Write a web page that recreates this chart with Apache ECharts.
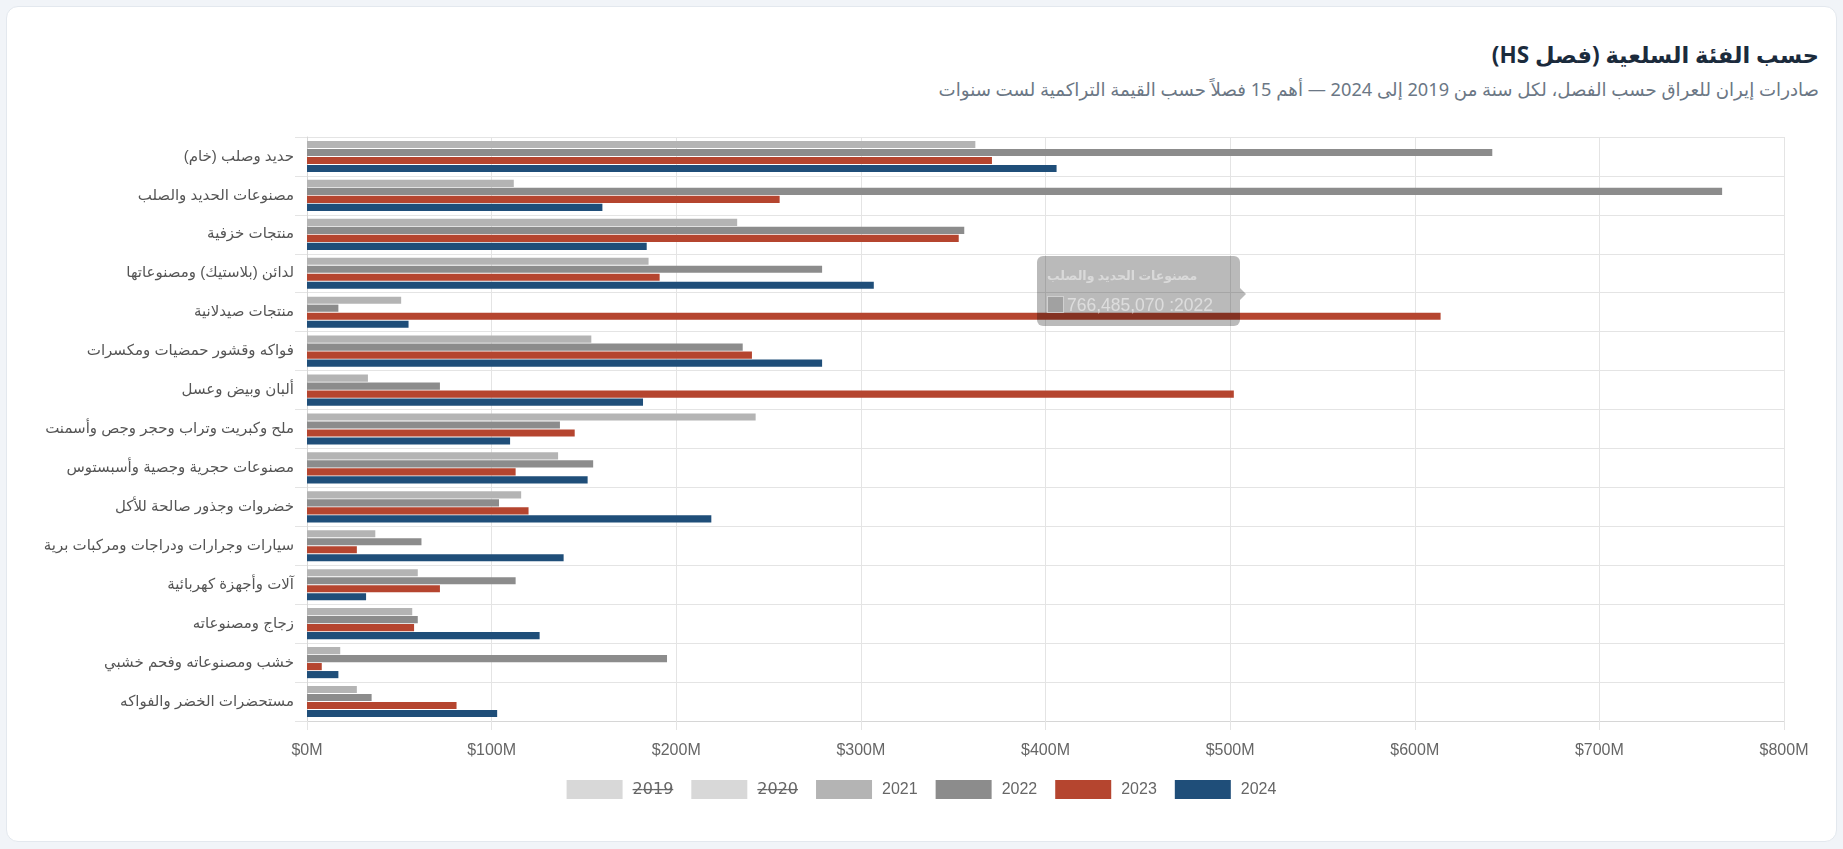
<!DOCTYPE html>
<html>
<head>
<meta charset="utf-8">
<script src="https://cdn.jsdelivr.net/npm/echarts@6/dist/echarts.min.js"></script>
<style>
  html, body { margin: 0; padding: 0; background: #f1f4f8; width: 1843px; height: 849px; overflow: hidden; }
  #card { position: absolute; left: 6px; top: 6px; width: 1829px; height: 834px; background: #fff; border: 1px solid #e3e8ee; border-radius: 12px; }
  #title { position: absolute; right: 24px; top: 40px; direction: rtl; font-family: "Noto Sans", "DejaVu Sans", sans-serif; font-size: 22.5px; font-weight: bold; color: #1b2b3c; white-space: nowrap; line-height: 30px; }
  #subtitle { position: absolute; right: 24px; top: 76px; direction: rtl; font-family: "Noto Sans", "DejaVu Sans", sans-serif; font-size: 18.2px; color: #6b7785; white-space: nowrap; line-height: 26px; }
  #chart { position: absolute; left: 0; top: 0; width: 1843px; height: 849px; direction: rtl; }
</style>
</head>
<body>
<div id="card"></div>
<div id="title">حسب الفئة السلعية (فصل HS)</div>
<div id="subtitle">صادرات إيران للعراق حسب الفصل، لكل سنة من 2019 إلى 2024 — أهم 15 فصلاً حسب القيمة التراكمية لست سنوات</div>
<div id="chart"></div>
<script>
const categories = [
  'حديد وصلب (خام)',
  'مصنوعات الحديد والصلب',
  'منتجات خزفية',
  'لدائن (بلاستيك) ومصنوعاتها',
  'منتجات صيدلانية',
  'فواكه وقشور حمضيات ومكسرات',
  'ألبان وبيض وعسل',
  'ملح وكبريت وتراب وحجر وجص وأسمنت',
  'مصنوعات حجرية وجصية وأسبستوس',
  'خضروات وجذور صالحة للأكل',
  'سيارات وجرارات ودراجات ومركبات برية',
  'آلات وأجهزة كهربائية',
  'زجاج ومصنوعاته',
  'خشب ومصنوعاته وفحم خشبي',
  'مستحضرات الخضر والفواكه'
];
const years = ['2019', '2020', '2021', '2022', '2023', '2024'];
const hiddenYears = ['2019', '2020'];
const v2019 = [];
const v2020 = [];
const v2021 = [362000000, 112000000, 233000000, 185000000, 51000000, 154000000, 33000000, 243000000, 136000000, 116000000, 37000000, 60000000, 57000000, 18000000, 27000000];
const v2022 = [642000000, 766485070, 356000000, 279000000, 17000000, 236000000, 72000000, 137000000, 155000000, 104000000, 62000000, 113000000, 60000000, 195000000, 35000000];
const v2023 = [371000000, 256000000, 353000000, 191000000, 614000000, 241000000, 502000000, 145000000, 113000000, 120000000, 27000000, 72000000, 58000000, 8000000, 81000000];
const v2024 = [406000000, 160000000, 184000000, 307000000, 55000000, 279000000, 182000000, 110000000, 152000000, 219000000, 139000000, 32000000, 126000000, 17000000, 103000000];
const xTicks = { min: 0, max: 800000000, interval: 100000000 };

const values = [v2019, v2020, v2021, v2022, v2023, v2024];
const colors = ['#e0e0e0', '#d0d0d0', '#b4b4b4', '#8c8c8c', '#b5452f', '#1f4e79'];

const strike = s => s.split('').map(c => c + '\u0336').join('');

const chart = echarts.init(document.getElementById('chart'), null, { renderer: 'canvas' });
const selected = {};
years.forEach(y => { selected[y] = hiddenYears.indexOf(y) < 0; });

chart.setOption({
  animation: false,
  textStyle: { fontFamily: '"Liberation Sans", Arial, "DejaVu Sans", sans-serif' },
  grid: { left: 307, right: 59, top: 137, bottom: 128, containLabel: false },
  legend: {
    left: 'center',
    top: 775,
    itemWidth: 56,
    itemHeight: 19,
    itemGap: 18,
    icon: 'rect',
    selected: selected,
    inactiveColor: '#d8d8d8',
    data: years,
    textStyle: {
      color: '#666', fontSize: 16,
      rich: {
        n: { color: '#666', fontSize: 16, padding: [0, 0, 0, 5] },
        s: { color: '#666', fontSize: 16, fontFamily: '"DejaVu Sans"', padding: [0, 0, 0, 5] }
      }
    },
    formatter: name => hiddenYears.indexOf(name) >= 0 ? '{s|' + strike(name) + '}' : '{n|' + name + '}'
  },
  tooltip: {
    trigger: 'item',
    triggerOn: 'none',
    alwaysShowContent: true,
    transitionDuration: 0,
    backgroundColor: 'rgba(0,0,0,0.27)',
    borderWidth: 0,
    padding: [10, 10],
    position: [1037, 256],
    extraCssText: 'box-shadow:none;border-radius:6px;width:183px;',
    formatter: p => {
      const box = '<span style="display:inline-block;width:15px;height:15px;background:rgba(140,140,140,0.55);border:1px solid rgba(255,255,255,0.5);vertical-align:-2px;margin-right:3px"></span>';
      return '<div dir="rtl" style="position:relative;text-align:left;font-family:\'Liberation Sans\',Arial,\'DejaVu Sans\',sans-serif;color:rgba(255,255,255,0.45)">' +
        '<div style="font-weight:bold;font-size:12.5px;line-height:20px;margin-bottom:8px">' + p.name + '</div>' +
        '<div style="font-size:17.5px;line-height:22px;direction:rtl;color:rgba(255,255,255,0.5)">' + p.seriesName + ': ' + p.value.toLocaleString('en-US') + box + '</div>' +
        '<div style="position:absolute;right:-22px;top:22px;width:0;height:0;border:6px solid transparent;border-left-color:rgba(0,0,0,0.27)"></div>' +
        '</div>';
    }
  },
  xAxis: {
    type: 'value',
    min: xTicks.min,
    max: xTicks.max,
    interval: xTicks.interval,
    axisLine: { show: true, lineStyle: { color: '#d6d6d6' } },
    axisTick: { show: true, length: 9, lineStyle: { color: '#e4e4e4' } },
    splitLine: { show: true, lineStyle: { color: '#e4e4e4' } },
    axisLabel: { color: '#666', fontSize: 16, margin: 22, formatter: v => '$' + (v / 1000000) + 'M' }
  },
  yAxis: {
    type: 'category',
    data: categories,
    inverse: true,
    axisLine: { show: true, lineStyle: { color: '#d6d6d6' } },
    axisTick: { show: true, length: 12, lineStyle: { color: '#e4e4e4' } },
    splitLine: { show: true, lineStyle: { color: '#e4e4e4' } },
    axisLabel: { color: '#555', fontSize: 15, margin: 13 }
  },
  series: years.map((y, i) => ({
    name: y,
    type: 'bar',
    data: values[i],
    barCategoryGap: '20%',
    barGap: '12%',
    itemStyle: { color: colors[i] }
  }))
});

chart.dispatchAction({ type: 'showTip', seriesIndex: 3, dataIndex: 1 });
</script>
</body>
</html>
